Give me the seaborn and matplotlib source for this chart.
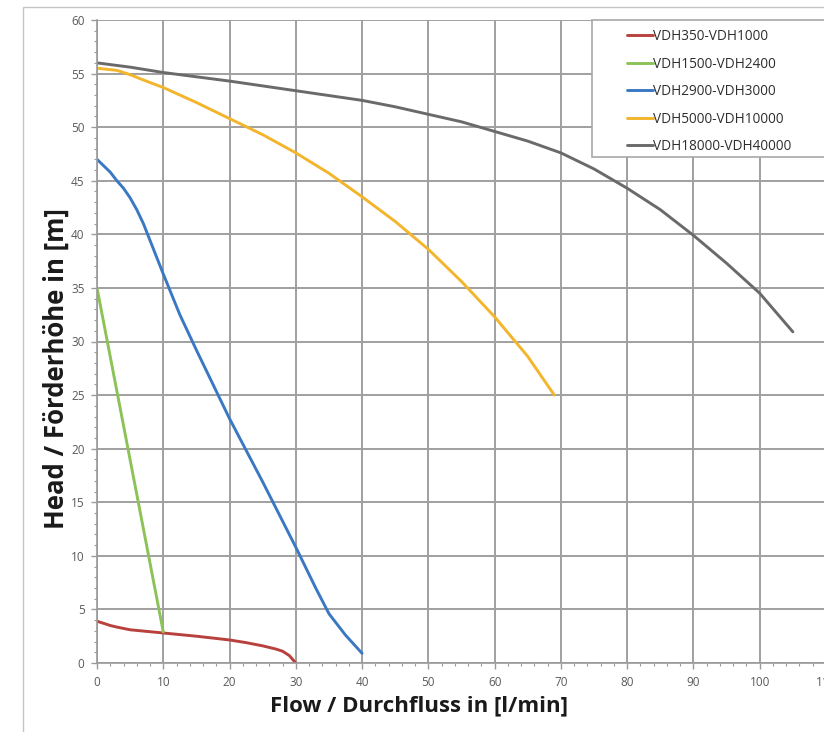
import pandas as pd
import matplotlib
matplotlib.use("Agg")
import matplotlib.pyplot as plt
from matplotlib.patches import Rectangle
from matplotlib.ticker import MultipleLocator
import seaborn as sns

# === 1. Kennlinien ===
series_names = ["VDH350-VDH1000", "VDH1500-VDH2400", "VDH2900-VDH3000",
                "VDH5000-VDH10000", "VDH18000-VDH40000"]
colors = ["#b8413d", "#8dc257", "#3a78c3", "#f2b52c", "#6a6a6a"]

flow_350 = [0, 1, 2, 3, 5, 7.5, 10, 15, 20, 22.5, 25, 27, 28, 29, 30]
head_350 = [3.9, 3.7, 3.5, 3.35, 3.1, 2.95, 2.8, 2.5, 2.15, 1.9, 1.6, 1.3, 1.1, 0.7, 0.0]

flow_1500 = [0, 10]
head_1500 = [35.0, 2.9]

flow_2900 = [0, 2, 3, 4, 5, 6, 7, 10, 12.5, 15, 17.5, 20, 25, 30, 33, 35, 37.5, 40]
head_2900 = [47.0, 45.8, 45.0, 44.3, 43.4, 42.3, 41.0, 36.3, 32.5, 29.2, 26.0, 22.8,
             16.9, 10.8, 7.0, 4.6, 2.6, 0.9]

flow_5000 = [0, 3, 5, 7, 10, 15, 20, 25, 30, 35, 40, 45, 50, 55, 60, 65, 69]
head_5000 = [55.5, 55.3, 54.9, 54.4, 53.7, 52.3, 50.8, 49.3, 47.6, 45.7, 43.5, 41.2,
             38.6, 35.6, 32.3, 28.6, 25.0]

flow_18000 = [0, 5, 10, 15, 20, 30, 40, 45, 50, 55, 60, 65, 70, 75, 80, 85, 90, 95,
              100, 105]
head_18000 = [56.0, 55.6, 55.1, 54.7, 54.3, 53.4, 52.5, 51.9, 51.2, 50.5, 49.6, 48.7,
              47.6, 46.1, 44.3, 42.3, 39.9, 37.3, 34.5, 30.9]

x_ticks = list(range(0, 120, 10))
y_ticks = list(range(0, 65, 5))

flows = [flow_350, flow_1500, flow_2900, flow_5000, flow_18000]
heads = [head_350, head_1500, head_2900, head_5000, head_18000]
rows = []
for name, fl, hd in zip(series_names, flows, heads):
    for f, h in zip(fl, hd):
        rows.append({"Flow": f, "Head": h, "Serie": name})
df = pd.DataFrame(rows)

# === 2. Stil ===
sns.set_style("white")
plt.rcParams['font.family'] = ['Open Sans', 'DejaVu Sans']

fig = plt.figure(figsize=(8.24, 7.32), dpi=100)
ax = fig.add_axes([97 / 824, 69 / 732, 729 / 824, 643 / 732])

# Rahmen des Diagrammbereichs
fig.patches.append(Rectangle((23 / 824, -0.05), 1.2, 0.05 + 725 / 732,
                             transform=fig.transFigure, fill=False,
                             edgecolor="#c4c4c4", linewidth=1.0, zorder=0))

sns.lineplot(data=df, x="Flow", y="Head", hue="Serie", hue_order=series_names,
             palette=colors, linewidth=2.1, sort=True, estimator=None, ax=ax)

ax.set_xlim(0, 110)
ax.set_ylim(0, 60)
ax.set_xticks(x_ticks)
ax.set_yticks(y_ticks)
ax.xaxis.set_minor_locator(MultipleLocator(2))
ax.yaxis.set_minor_locator(MultipleLocator(1))
ax.grid(True, which="major", color="#a0a0a0", linewidth=1.4)
ax.set_axisbelow(True)

for s in ["top", "right"]:
    ax.spines[s].set_visible(False)
for s in ["left", "bottom"]:
    ax.spines[s].set_color("#9a9a9a")
    ax.spines[s].set_linewidth(1.2)

ax.tick_params(which="major", length=4, width=1, color="#9a9a9a",
               labelsize=8.5, labelcolor="#5a5a5a", pad=5)
ax.tick_params(which="minor", length=2.5, width=0.8, color="#9a9a9a")
ax.tick_params(axis="both", which="both", direction="out",
               bottom=True, left=True)

ax.set_xlabel("Flow / Durchfluss in [l/min]", fontsize=16, fontweight="bold",
              color="#1a1a1a")
ax.set_ylabel("Head / Förderhöhe in [m]", fontsize=18.5, fontweight="bold",
              color="#1a1a1a")
ax.xaxis.set_label_coords((419 - 97) / 729, -0.066)
ax.yaxis.set_label_coords((56 - 97) / 729, 0.458)
ax.xaxis.label.set_va("center")
ax.yaxis.label.set_va("center")

# === 3. Legende ===
fig.patches.append(Rectangle((592 / 824, (732 - 157) / 732), 0.5, 137 / 732,
                             transform=fig.transFigure, facecolor="white",
                             edgecolor="#a8a8a8", linewidth=1.2, zorder=5))
handles, labels = ax.get_legend_handles_labels()
leg = fig.legend(handles, labels, loc="upper left",
                 bbox_to_anchor=(627 / 824, (732 - 29) / 732),
                 frameon=False, fontsize=9.8, handlelength=1.9,
                 handletextpad=0.0, labelspacing=0.92, borderpad=0,
                 borderaxespad=0)
leg.set_zorder(6)
for t in leg.get_texts():
    t.set_color("#2e2e2e")
ax.get_legend().remove()

plt.savefig("out.png", dpi=100)
